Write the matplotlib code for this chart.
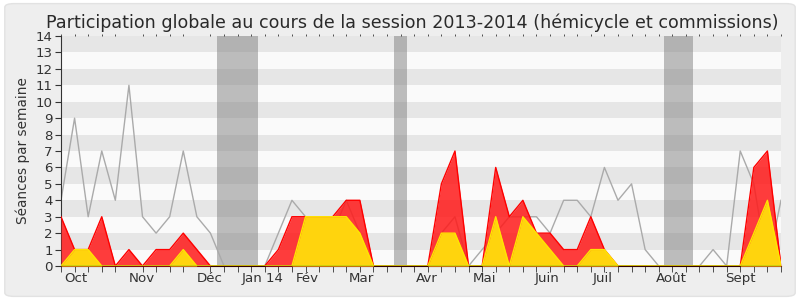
import numpy as np
import matplotlib.pyplot as plt
from matplotlib.patches import FancyBboxPatch

# weekly values, session 2013-2014 (54 weeks)
total = [4, 9, 3, 7, 4, 11, 3, 2, 3, 7, 3, 2, 0, 0, 0, 0, 2, 4, 3, 2,
         2, 4, 2, 0, 0, 0, 0, 0, 2, 3, 0, 1, 2, 3, 3, 3, 2, 4, 4, 3,
         6, 4, 5, 1, 0, 0, 0, 0, 1, 0, 7, 5, 0, 4]
presence = [3, 1, 1, 3, 0, 1, 0, 1, 1, 2, 1, 0, 0, 0, 0, 0, 1, 3, 3, 3,
            3, 4, 4, 0, 0, 0, 0, 0, 5, 7, 0, 0, 6, 3, 4, 2, 2, 1, 1, 3,
            1, 0, 0, 0, 0, 0, 0, 0, 0, 0, 0, 6, 7, 0]
commission = [0, 1, 1, 0, 0, 0, 0, 0, 0, 1, 0, 0, 0, 0, 0, 0, 0, 0, 3, 3,
              3, 3, 2, 0, 0, 0, 0, 0, 2, 2, 0, 0, 3, 0, 3, 2, 1, 0, 0, 1,
              1, 0, 0, 0, 0, 0, 0, 0, 0, 0, 0, 2, 4, 0]
vacances = [(11.5, 14.5), (24.5, 25.5), (44.4, 46.5)]
mois = ['Oct', 'Nov', 'Déc', 'Jan 14', 'Fév', 'Mar', 'Avr', 'Mai', 'Juin',
        'Juil', 'Août', 'Sept']
mois_pos = [0.25, 5.0, 10.0, 13.3, 17.3, 21.2, 26.1, 30.3, 34.9, 39.1, 43.8, 48.9]

x = np.arange(len(total))

fig = plt.figure(figsize=(8, 3), dpi=100)
fig.patch.set_facecolor('white')
fig.patches.append(FancyBboxPatch((0.006, 0.012), 0.988, 0.976,
                                  boxstyle='round,pad=0,rounding_size=0.012',
                                  transform=fig.transFigure, facecolor='#eeeeee',
                                  edgecolor='#e2e2e2', linewidth=1, zorder=-10))
ax = fig.add_axes([0.07625, 0.1133, 0.9, 0.7667])
ax.set_facecolor('#fafafa')

# alternating bands
for k in range(1, 14, 2):
    ax.axhspan(k, k + 1, color='#e6e6e6', lw=0, zorder=0)
for a, b in vacances:
    ax.axvspan(a, b, color='#808080', alpha=0.5, lw=0, zorder=1)

ax.plot(x, total, color='#aaaaaa', lw=1, zorder=2)
ax.fill_between(x, presence, color='#ff1a1a', alpha=0.85, lw=0, zorder=3)
ax.plot(x, presence, color='#ff0000', lw=1, zorder=3)
ax.fill_between(x, commission, color='#ffd40d', lw=0, zorder=4)
ax.plot(x, commission, color='#ffe600', lw=1, zorder=4)
ax.plot(x, np.zeros(len(x)), color='#00cc00', lw=1, zorder=5)

ax.set_xlim(0, 53)
ax.set_ylim(0, 14)
ax.set_yticks(range(15))
ax.set_xticks(mois_pos)
ax.set_xticklabels(mois, ha='left')
ax.set_xticks(x, minor=True)
ax.tick_params(axis='x', which='major', length=0, labelsize=9.6, pad=4, colors='#333333')
ax.tick_params(axis='x', which='minor', length=4, color='#333333', top=True)
ax.tick_params(axis='y', length=4, labelsize=9.6, pad=2, colors='#333333')
for t in ax.xaxis.get_minor_ticks():
    t.tick2line.set_markersize(1.5)
ax.set_ylabel('Séances par semaine', fontsize=9.8, color='#333333', labelpad=4)
ax.set_title('Participation globale au cours de la session 2013-2014 (hémicycle et commissions)',
             fontsize=12.6, color='#2a2a2a', pad=6, x=0.488)

for s in ['top', 'right']:
    ax.spines[s].set_visible(False)
ax.spines['bottom'].set_color('#330000')
ax.spines['left'].set_color('#333333')

fig.savefig('out.png', dpi=100)
